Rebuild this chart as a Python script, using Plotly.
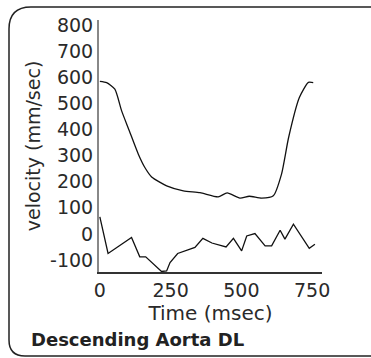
import plotly.graph_objects as go

# Upper (spectral peak) velocity trace
upper_t = [0, 24, 53, 77, 104, 136, 159, 183, 236, 295, 354, 418, 450, 495, 528, 572, 613, 642, 667, 705, 737, 754]
upper_v = [584, 579, 554, 471, 395, 305, 254, 218, 184, 165, 158, 142, 157, 137, 144, 137, 146, 229, 369, 522, 580, 579]

# Lower velocity trace
lower_t = [0, 29, 112, 141, 162, 206, 218, 236, 244, 248, 275, 336, 364, 396, 446, 472, 501, 519, 548, 584, 607, 637, 654, 684, 740, 760]
lower_v = [65, -75, -14, -88, -88, -135, -144, -142, -123, -110, -75, -52, -17, -35, -50, -17, -65, -8, 1, -46, -46, 14, -20, 37, -55, -40]

x_ticks = [0, 250, 500, 750]
y_ticks = [-100, 0, 100, 200, 300, 400, 500, 600, 700, 800]

FONT = "DejaVu Sans"
W, H = 371, 358
L, R, T, B = 99, 49, 20, 86
PW, PH = W - L - R, H - T - B

def px(x):
    return (x - L) / PW

def py(y):
    return 1 - (y - T) / PH

fig = go.Figure()
fig.add_trace(go.Scatter(x=upper_t, y=upper_v, mode="lines",
                         line=dict(color="#111111", width=1.3, shape="spline", smoothing=0.6),
                         showlegend=False, hoverinfo="skip"))
fig.add_trace(go.Scatter(x=lower_t, y=lower_v, mode="lines",
                         line=dict(color="#111111", width=1.3),
                         showlegend=False, hoverinfo="skip"))

# rounded frame (pixel coords converted to paper)
x0, y0, x1, y1 = 9, 7, 385, 356
r1, r2 = 22, 16
path = (
    f"M {px(x0)},{py(y0 + r1)} "
    f"Q {px(x0)},{py(y0)} {px(x0 + r1)},{py(y0)} "
    f"L {px(x1)},{py(y0)} "
    f"L {px(x1)},{py(y1)} "
    f"L {px(x0 + r2)},{py(y1)} "
    f"Q {px(x0)},{py(y1)} {px(x0)},{py(y1 - r2)} Z"
)

fig.update_layout(
    width=W, height=H,
    margin=dict(l=L, r=R, t=T, b=B, autoexpand=False),
    paper_bgcolor="white", plot_bgcolor="white",
    font=dict(family=FONT, color="#2a2a2a", size=19),
    title=dict(text="<b>Descending Aorta DL</b>", xref="container", yref="container",
               x=31 / W, xanchor="left", y=1 - 340 / H, yanchor="middle",
               font=dict(family=FONT, size=18, color="#222222")),
    xaxis=dict(range=[-3, 785], tickvals=x_ticks, ticktext=[str(v) for v in x_ticks],
               showgrid=False, zeroline=False, showline=True, linecolor="#333333", linewidth=2,
               ticks="", automargin=False,
               title=dict(text="Time (msec)", standoff=6, font=dict(size=20)),
               tickfont=dict(size=19)),
    yaxis=dict(range=[-146, 819], tickvals=y_ticks, ticktext=[str(v) for v in y_ticks],
               showgrid=False, zeroline=False, showline=True, linecolor="#888888", linewidth=2,
               ticks="", automargin=False,
               title=dict(text="velocity (mm/sec)", standoff=4, font=dict(size=19)),
               tickfont=dict(size=19)),
    shapes=[dict(type="path", xref="paper", yref="paper", path=path,
                 line=dict(color="#222222", width=1.5), fillcolor="rgba(0,0,0,0)", layer="below")],
)

fig.write_html("out.html", config={"displayModeBar": False, "staticPlot": True},
               post_script="document.body.style.margin='0';document.body.style.overflow='hidden';")
